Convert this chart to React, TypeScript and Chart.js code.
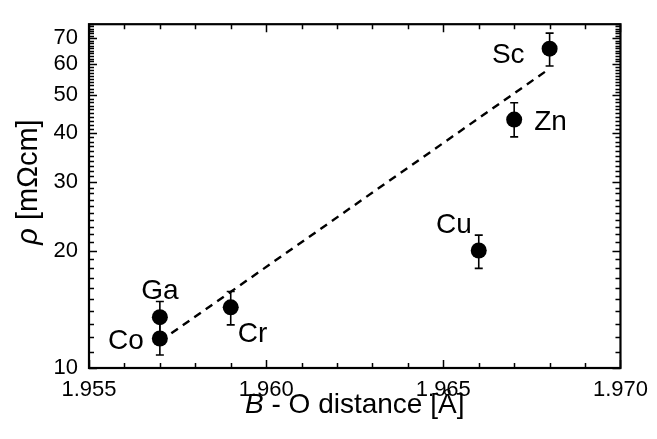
import React, { useEffect, useRef } from "react";
import { Chart, registerables } from "chart.js";

Chart.register(...registerables);

// ---------- data ----------
const elements = ["Co", "Ga", "Cr", "Cu", "Zn", "Sc"];
const distance = [1.957, 1.957, 1.959, 1.966, 1.967, 1.968];
const resistivity = [11.9, 13.5, 14.3, 20.0, 43.3, 65.8];
const errLow = [10.8, 12.3, 12.9, 18.0, 39.1, 59.4];
const errHigh = [13.1, 14.8, 15.7, 21.9, 47.8, 72.1];

const fitX = [1.957, 1.968];
const fitY = [11.7, 58.5];

const xTickLabels = [1.955, 1.96, 1.965, 1.97];
const xMinorTicks = [
  1.956, 1.957, 1.958, 1.959, 1.961, 1.962, 1.963, 1.964, 1.966, 1.967, 1.968, 1.969,
];
const yTickLabels = [10, 20, 30, 40, 50, 60, 70];
const yMin = 10;
const yMax = 76;

// ---------- styling ----------
const FONT = "'Liberation Sans', Arial, Helvetica, sans-serif";
const labelPlacement: { dx: number; dy: number; align: CanvasTextAlign }[] = [
  { dx: -16, dy: 10, align: "right" }, // Co
  { dx: 0, dy: -18, align: "center" }, // Ga
  { dx: 7, dy: 35, align: "left" }, // Cr
  { dx: -7, dy: -18, align: "right" }, // Cu
  { dx: 20, dy: 10, align: "left" }, // Zn
  { dx: -25, dy: 14, align: "right" }, // Sc
];

function drawMixed(
  ctx: CanvasRenderingContext2D,
  parts: { t: string; italic: boolean }[],
  size: number,
  cx: number,
  baseline: number
) {
  const fonts = parts.map((p) => `${p.italic ? "italic " : ""}${size}px ${FONT}`);
  let total = 0;
  const widths = parts.map((p, i) => {
    ctx.font = fonts[i];
    const w = ctx.measureText(p.t).width;
    total += w;
    return w;
  });
  let x = cx - total / 2;
  ctx.textAlign = "left";
  ctx.textBaseline = "alphabetic";
  parts.forEach((p, i) => {
    ctx.font = fonts[i];
    ctx.fillText(p.t, x, baseline);
    x += widths[i];
  });
}

const framePlugin = {
  id: "frame",
  beforeDatasetsDraw(chart: any) {
    const { ctx, scales } = chart;
    const xs = scales.x;
    const ys = scales.y;
    ctx.save();
    ctx.strokeStyle = "#000";
    ctx.lineWidth = 1.6;
    const cap = 4;
    distance.forEach((d, i) => {
      const px = xs.getPixelForValue(d);
      const yl = ys.getPixelForValue(errLow[i]);
      const yh = ys.getPixelForValue(errHigh[i]);
      ctx.beginPath();
      ctx.moveTo(px, yl);
      ctx.lineTo(px, yh);
      ctx.moveTo(px - cap, yl);
      ctx.lineTo(px + cap, yl);
      ctx.moveTo(px - cap, yh);
      ctx.lineTo(px + cap, yh);
      ctx.stroke();
    });
    ctx.restore();
  },
  afterDraw(chart: any) {
    const { ctx, chartArea, scales } = chart;
    const { left, right, top, bottom } = chartArea;
    const xs = scales.x;
    const ys = scales.y;
    ctx.save();
    ctx.strokeStyle = "#000";
    ctx.lineWidth = 2.2;
    ctx.strokeRect(left, top, right - left, bottom - top);

    ctx.lineWidth = 1.5;
    ctx.beginPath();
    const major = 8;
    const minor = 5;
    const xTick = (v: number, len: number) => {
      const px = Math.round(xs.getPixelForValue(v)) + 0.5;
      ctx.moveTo(px, bottom);
      ctx.lineTo(px, bottom - len);
      ctx.moveTo(px, top);
      ctx.lineTo(px, top + len);
    };
    xTickLabels.forEach((v) => xTick(v, major));
    xMinorTicks.forEach((v) => xTick(v, minor));
    const yTick = (v: number, len: number) => {
      const py = Math.round(ys.getPixelForValue(v)) + 0.5;
      ctx.moveTo(left, py);
      ctx.lineTo(left + len, py);
      ctx.moveTo(right, py);
      ctx.lineTo(right - len, py);
    };
    for (let v = yMin; v <= yMax; v++) {
      yTick(v, yTickLabels.includes(v) ? major : minor);
    }
    ctx.stroke();

    // point labels
    ctx.fillStyle = "#000";
    ctx.font = `28px ${FONT}`;
    ctx.textBaseline = "alphabetic";
    elements.forEach((name, i) => {
      const px = xs.getPixelForValue(distance[i]);
      const py = ys.getPixelForValue(resistivity[i]);
      const p = labelPlacement[i];
      ctx.textAlign = p.align;
      ctx.fillText(name, px + p.dx, py + p.dy);
    });

    // axis titles
    drawMixed(
      ctx,
      [
        { t: "B", italic: true },
        { t: " - O distance [Å]", italic: false },
      ],
      28,
      (left + right) / 2,
      413
    );
    ctx.save();
    ctx.translate(37, 182);
    ctx.rotate(-Math.PI / 2);
    drawMixed(
      ctx,
      [
        { t: "ρ", italic: true },
        { t: " [mΩcm]", italic: false },
      ],
      29,
      0,
      0
    );
    ctx.restore();
    ctx.restore();
  },
};

export default function App() {
  const ref = useRef<HTMLCanvasElement | null>(null);
  useEffect(() => {
    if (!ref.current) return;
    const chart = new Chart(ref.current, {
      type: "scatter",
      data: {
        datasets: [
          {
            type: "line",
            data: fitX.map((x, i) => ({ x, y: fitY[i] })),
            borderColor: "#000",
            borderWidth: 2.4,
            borderDash: [8, 6],
            pointRadius: 0,
            fill: false,
            order: 2,
          } as any,
          {
            type: "scatter",
            data: distance.map((x, i) => ({ x, y: resistivity[i] })),
            pointRadius: 8,
            pointHoverRadius: 8,
            backgroundColor: "#000",
            borderColor: "#000",
            borderWidth: 0,
            order: 1,
          },
        ],
      },
      options: {
        animation: false,
        responsive: false,
        devicePixelRatio: 1,
        layout: { padding: { top: 14, right: 33, left: 0, bottom: 0 } },
        plugins: {
          legend: { display: false },
          tooltip: { enabled: false },
        },
        scales: {
          x: {
            type: "linear",
            min: 1.955,
            max: 1.97,
            grid: { display: false, drawTicks: false },
            border: { display: false },
            ticks: {
              color: "#000",
              font: { size: 22, family: FONT },
              padding: 9,
              autoSkip: false,
              maxRotation: 0,
              callback: (v: any) => Number(v).toFixed(3),
            },
            afterBuildTicks: (s: any) => {
              s.ticks = xTickLabels.map((v) => ({ value: v }));
            },
            afterFit: (s: any) => {
              s.height = 71;
            },
          },
          y: {
            type: "logarithmic",
            min: yMin,
            max: yMax,
            grid: { display: false, drawTicks: false },
            border: { display: false },
            ticks: {
              color: "#000",
              font: { size: 22, family: FONT },
              padding: 11,
              autoSkip: false,
              callback: (v: any) => String(v),
            },
            afterBuildTicks: (s: any) => {
              s.ticks = yTickLabels.map((v) => ({ value: v }));
            },
            afterFit: (s: any) => {
              s.width = 89;
            },
          },
        },
      },
      plugins: [framePlugin],
    });
    return () => chart.destroy();
  }, []);
  return (
    <div style={{ position: "absolute", left: 0, top: 0, width: 657, height: 439, background: "#fff" }}>
      <canvas ref={ref} width={657} height={439} />
    </div>
  );
}
